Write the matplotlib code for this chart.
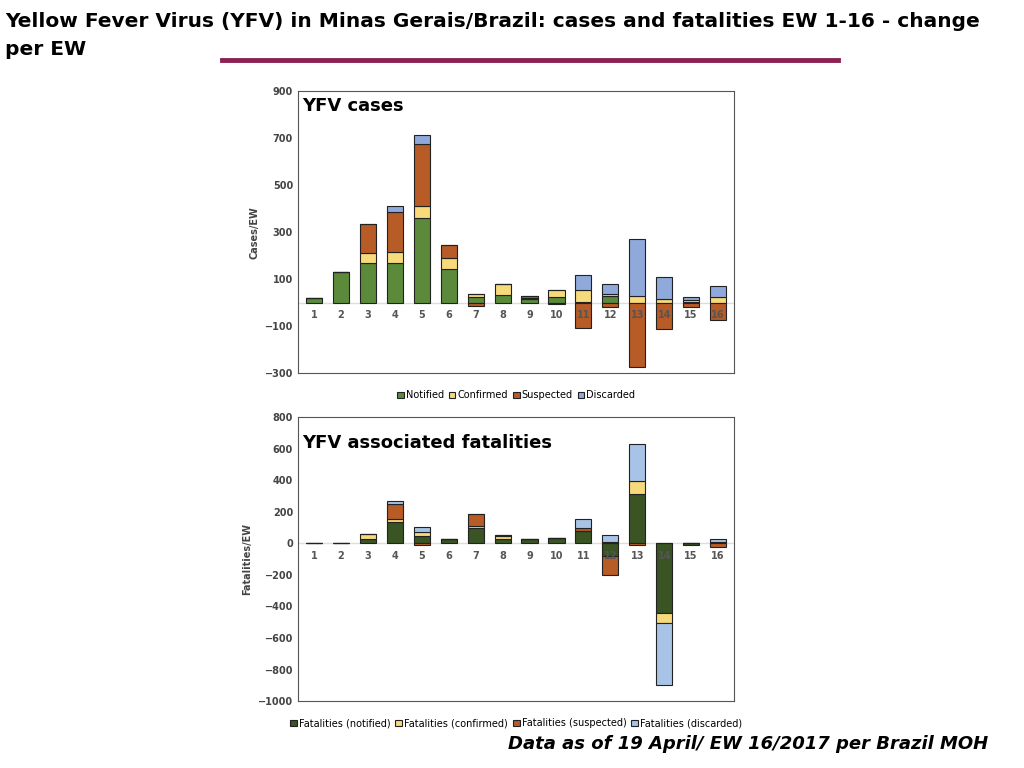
import numpy as np
import matplotlib.pyplot as plt

weeks = list(range(1, 17))

# YFV cases, change per EW
notified = [21, 130, 169, 169, 360, 145, 26, 35, 17, 26, 4, 31, 0, 0, 4, 0]
confirmed = [0, 0, 44, 48, 52, 45, 11, 44, 3, 28, 51, 7, 30, 17, 8, 26]
suspected = [0, 0, 123, 170, 265, 54, -13, 0, 10, 0, -106, -17, -274, -111, -17, -72]
discarded = [0, 0, 0, 23, 38, 3, 0, 0, 0, -4, 62, 41, 240, 92, 13, 45]

# YFV fatalities, change per EW
f_notified = [0, 0, 25, 133, 49, 30, 99, 27, 30, 34, 78, -78, 310, -443, -8, 0]
f_confirmed = [0, 0, 32, 19, 21, 0, 11, 17, 0, 0, 0, 10, 82, -63, 5, 10]
f_suspected = [0, 0, 0, 97, -10, 0, 74, 11, 0, 0, 19, -122, -10, 0, 0, -25]
f_discarded = [0, 0, 0, 19, 32, 0, 0, 0, 0, 0, 57, 40, 238, -390, 0, 15]


def stacked(ax, series, colors, labels, ylim, yticks, ylabel, title, title_y):
    x = np.arange(len(weeks))
    pos = np.zeros(len(weeks))
    neg = np.zeros(len(weeks))
    for vals, c, lab in zip(series, colors, labels):
        v = np.array(vals, dtype=float)
        base = np.where(v >= 0, pos, neg)
        ax.bar(x, v, bottom=base, width=0.6, color=c, edgecolor='#222222',
               linewidth=0.8, label=lab)
        pos += np.where(v >= 0, v, 0)
        neg += np.where(v < 0, v, 0)
    ax.axhline(0, color='#dddddd', lw=1, zorder=0)
    ax.set_xlim(-0.6, len(weeks) - 0.4)
    ax.set_ylim(*ylim)
    ax.set_yticks(yticks)
    ax.set_xticks([])
    ax.tick_params(axis='y', length=0, labelsize=7, labelcolor='#444444')
    for t in ax.get_yticklabels():
        t.set_fontweight('bold')
    ax.set_ylabel(ylabel, fontsize=7, fontweight='bold', color='#444444')
    off = (ylim[1] - ylim[0]) * 0.045
    for i, w in enumerate(weeks):
        ax.text(i, -off, str(w), ha='center', va='center', fontsize=7,
                fontweight='bold', color='#555555')
    ax.text(0.01, title_y, title, transform=ax.transAxes, fontsize=13,
            fontweight='bold', va='top')
    for s in ax.spines.values():
        s.set_color('#555555')
    ax.legend(loc='upper center', bbox_to_anchor=(0.5, -0.03), ncol=4,
              frameon=False, fontsize=7, handlelength=0.7, handleheight=0.7,
              columnspacing=0.5, handletextpad=0.2)


fig = plt.figure(figsize=(10.24, 7.68), dpi=100)
ax1 = fig.add_axes([0.291, 0.514, 0.426, 0.367])
ax2 = fig.add_axes([0.291, 0.087, 0.426, 0.370])

stacked(ax1, [notified, confirmed, suspected, discarded],
        ['#5B8A3B', '#F7DA7A', '#B75B27', '#8FA9DA'],
        ['Notified', 'Confirmed', 'Suspected', 'Discarded'],
        (-300, 900), [-300, -100, 100, 300, 500, 700, 900], 'Cases/EW',
        'YFV cases', 0.98)
stacked(ax2, [f_notified, f_confirmed, f_suspected, f_discarded],
        ['#3A5424', '#F7DA7A', '#B75B27', '#A7C3E6'],
        ['Fatalities (notified)', 'Fatalities (confirmed)',
         'Fatalities (suspected)', 'Fatalities (discarded)'],
        (-1000, 800), list(range(-1000, 801, 200)), 'Fatalities/EW',
        'YFV associated fatalities', 0.94)

fig.text(0.005, 0.985, 'Yellow Fever Virus (YFV) in Minas Gerais/Brazil: cases and fatalities EW 1-16 - change',
         fontsize=14.5, fontweight='bold', va='top')
fig.text(0.005, 0.948, 'per EW', fontsize=14.5, fontweight='bold', va='top')
fig.add_artist(plt.Line2D([0.217, 0.818], [0.922, 0.922], color='#8B2252', lw=3.5))
fig.text(0.965, 0.025, 'Data as of 19 April/ EW 16/2017 per Brazil MOH', fontsize=13,
         fontweight='bold', style='italic', ha='right')

fig.savefig('out.png', dpi=100)
